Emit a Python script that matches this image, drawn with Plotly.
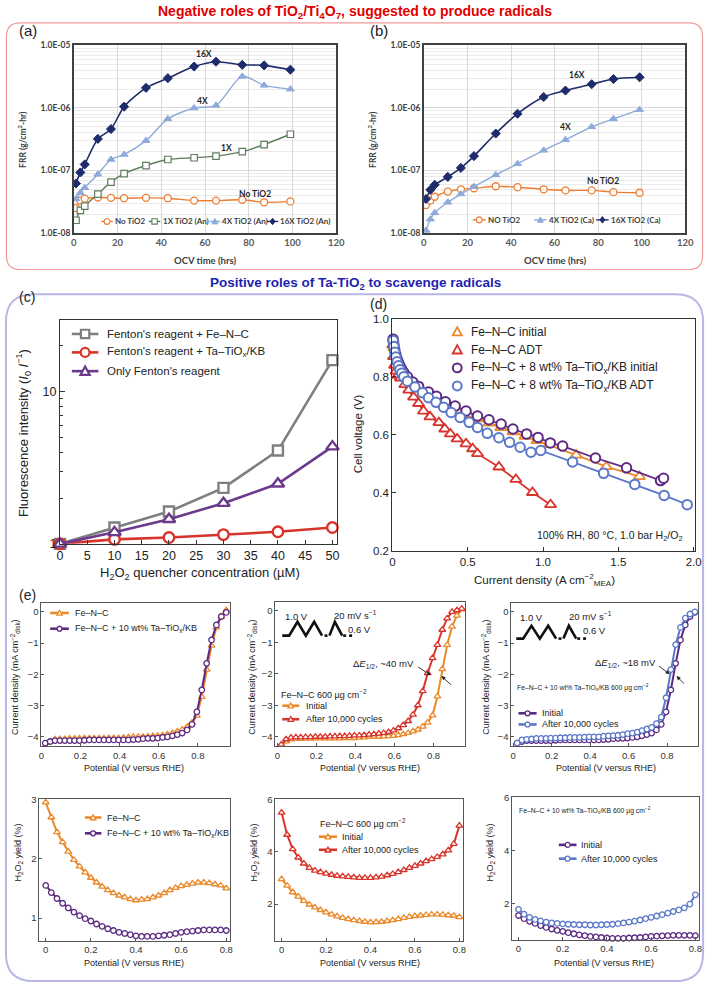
import math
import plotly.graph_objects as go

W, H = 716, 992

# ---------------- panel (a): FRR vs OCV time, anatase ----------------
a_time = [1, 3, 5, 11, 17, 23, 33, 43, 55, 65, 77, 87, 99]
a_no_tio2 = [2.5e-8, 3.3e-8, 3.55e-8, 3.7e-8, 3.65e-8, 3.6e-8, 3.65e-8, 3.6e-8, 3.3e-8, 3.3e-8, 3.4e-8, 3.1e-8, 3.2e-8]
a_1x = [1.6e-8, 2.3e-8, 2.7e-8, 4.2e-8, 6.5e-8, 8.9e-8, 1.2e-7, 1.5e-7, 1.6e-7, 1.7e-7, 2.0e-7, 2.6e-7, 3.8e-7]
a_4x = [3.5e-8, 4.4e-8, 5.3e-8, 8.7e-8, 1.5e-7, 1.8e-7, 3.0e-7, 6.7e-7, 1.0e-6, 1.1e-6, 3.2e-6, 2.3e-6, 2.0e-6]
a_16x = [6.2e-8, 9.3e-8, 1.25e-7, 3.2e-7, 4.6e-7, 1.05e-6, 2.1e-6, 3.0e-6, 4.6e-6, 5.5e-6, 4.9e-6, 4.8e-6, 4.1e-6]

# ---------------- panel (b): FRR vs OCV time, calcined ----------------
b_time = [1, 3, 5, 11, 17, 23, 33, 43, 55, 65, 77, 87, 99]
b_no_tio2 = [2.8e-8, 3.3e-8, 3.8e-8, 4.6e-8, 5.0e-8, 5.2e-8, 5.6e-8, 5.4e-8, 5.0e-8, 4.8e-8, 4.8e-8, 4.5e-8, 4.4e-8]
b_4x = [1.1e-8, 1.66e-8, 2.1e-8, 3.1e-8, 4.2e-8, 5.5e-8, 8.5e-8, 1.28e-7, 2.1e-7, 3.1e-7, 5.0e-7, 6.7e-7, 9.4e-7]
b_16x = [3.5e-8, 4.9e-8, 5.9e-8, 7.9e-8, 1.1e-7, 1.7e-7, 3.9e-7, 8.1e-7, 1.5e-6, 1.9e-6, 2.4e-6, 2.9e-6, 3.1e-6]

ab_xticks = [0, 20, 40, 60, 80, 100, 120]
ab_yticks = [1e-8, 1e-7, 1e-6, 1e-5]
ab_yticktext = ["1.0E-08", "1.0E-07", "1.0E-06", "1.0E-05"]

# ---------------- panel (c): fluorescence ----------------
c_conc = [0, 10, 20, 30, 40, 50]
c_fenton_fenc = [1.0, 1.28, 1.63, 2.33, 4.1, 16.1]
c_fenton_ta = [1.0, 1.07, 1.10, 1.15, 1.20, 1.28]
c_fenton_only = [1.0, 1.19, 1.45, 1.85, 2.48, 4.35]
c_xticks = [0, 5, 10, 15, 20, 25, 30, 35, 40, 45, 50]

# ---------------- panel (d): polarization curves ----------------
d_fenc_init_j = [0.005, 0.01, 0.02, 0.03, 0.045, 0.06, 0.08, 0.1, 0.13, 0.17, 0.21, 0.26, 0.31,
                 0.37, 0.43, 0.5, 0.57, 0.64, 0.72, 0.8, 0.88, 0.96, 1.04, 1.22, 1.42, 1.64]
d_fenc_init_v = [0.93, 0.90, 0.87, 0.85, 0.83, 0.815, 0.80, 0.79, 0.775, 0.76, 0.745, 0.73, 0.715,
                 0.70, 0.685, 0.67, 0.655, 0.64, 0.625, 0.61, 0.595, 0.58, 0.566, 0.53, 0.49, 0.456]
d_fenc_adt_j = [0.003, 0.008, 0.015, 0.025, 0.037, 0.054, 0.083, 0.109, 0.141, 0.174, 0.207, 0.25,
                0.309, 0.348, 0.385, 0.43, 0.489, 0.533, 0.565, 0.707, 0.82, 0.93, 1.05]
d_fenc_adt_v = [0.91, 0.87, 0.84, 0.82, 0.805, 0.796, 0.773, 0.754, 0.73, 0.708, 0.682, 0.662,
                0.642, 0.62, 0.603, 0.586, 0.569, 0.552, 0.535, 0.489, 0.446, 0.401, 0.359]
d_ta_init_j = [0.005, 0.01, 0.016, 0.023, 0.031, 0.04, 0.05, 0.062, 0.076, 0.1, 0.135, 0.174, 0.239,
               0.293, 0.352, 0.417, 0.489, 0.565, 0.641, 0.722, 0.8, 0.891, 0.967, 1.048, 1.13,
               1.348, 1.554, 1.78, 1.80]
d_ta_init_v = [0.93, 0.91, 0.893, 0.877, 0.862, 0.85, 0.838, 0.826, 0.815, 0.80, 0.782, 0.767, 0.748,
               0.733, 0.714, 0.699, 0.682, 0.665, 0.652, 0.637, 0.62, 0.603, 0.591, 0.572, 0.561,
               0.52, 0.486, 0.442, 0.45]
d_ta_adt_j = [0.005, 0.01, 0.016, 0.023, 0.031, 0.04, 0.05, 0.062, 0.076, 0.1, 0.15, 0.2, 0.24, 0.29,
              0.34, 0.39, 0.45, 0.51, 0.565, 0.63, 0.707, 0.778, 0.848, 0.92, 0.985, 1.196, 1.402,
              1.609, 1.804, 1.957]
d_ta_adt_v = [0.925, 0.905, 0.885, 0.868, 0.852, 0.838, 0.824, 0.812, 0.80, 0.785, 0.765, 0.745,
              0.728, 0.712, 0.695, 0.677, 0.66, 0.643, 0.625, 0.605, 0.59, 0.574, 0.557, 0.54,
              0.546, 0.506, 0.467, 0.429, 0.391, 0.359]

# ---------------- panel (e): RDE ----------------
e_lsv_pot = [0.020, 0.045, 0.070, 0.095, 0.120, 0.145, 0.170, 0.195, 0.220, 0.245,
             0.270, 0.295, 0.320, 0.345, 0.370, 0.395, 0.420, 0.445, 0.470, 0.495,
             0.520, 0.545, 0.570, 0.595, 0.620, 0.645, 0.670, 0.695, 0.720, 0.745,
             0.770, 0.795, 0.820, 0.845, 0.870, 0.895, 0.920, 0.945]
e_lsv_fenc_init = [-4.30, -4.15, -4.08, -4.07, -4.07, -4.06, -4.06, -4.05, -4.05, -4.05,
                   -4.05, -4.05, -4.05, -4.04, -4.04, -4.04, -4.03, -4.02, -4.00, -4.00,
                   -4.00, -3.99, -3.98, -3.97, -3.95, -3.92, -3.88, -3.83, -3.77, -3.68,
                   -3.55, -3.32, -2.72, -1.85, -1.08, -0.50, -0.15, 0.05]
e_lsv_ta_init = [-4.20, -4.15, -4.12, -4.12, -4.12, -4.12, -4.12, -4.12, -4.11, -4.10,
                 -4.10, -4.10, -4.10, -4.10, -4.10, -4.10, -4.10, -4.10, -4.09, -4.08,
                 -4.06, -4.05, -4.05, -4.04, -4.02, -4.00, -3.97, -3.93, -3.88, -3.78,
                 -3.60, -3.20, -2.50, -1.65, -0.90, -0.42, -0.15, -0.02]
e_lsv_fenc_after = [-4.25, -4.08, -4.03, -4.02, -4.02, -4.01, -4.01, -4.00, -4.00, -4.00,
                    -3.99, -3.99, -3.98, -3.98, -3.97, -3.96, -3.96, -3.95, -3.93, -3.92,
                    -3.90, -3.88, -3.85, -3.80, -3.73, -3.63, -3.50, -3.30, -3.00, -2.55,
                    -1.98, -1.50, -1.08, -0.60, -0.24, -0.03, 0.02, 0.07]
e_lsv_ta_after = [-4.20, -4.10, -4.08, -4.07, -4.05, -4.05, -4.05, -4.04, -4.04, -4.03,
                  -4.03, -4.02, -4.02, -4.02, -4.01, -4.00, -4.00, -4.00, -3.98, -3.97,
                  -3.96, -3.95, -3.93, -3.90, -3.88, -3.85, -3.80, -3.75, -3.70, -3.58,
                  -3.37, -2.75, -1.85, -1.05, -0.50, -0.20, -0.07, 0.00]

e_yield_pot = [0.0, 0.025, 0.05, 0.075, 0.1, 0.125, 0.15, 0.175, 0.2, 0.225, 0.25, 0.275, 0.3,
               0.325, 0.35, 0.375, 0.4, 0.425, 0.45, 0.475, 0.5, 0.525, 0.55, 0.575, 0.6, 0.625,
               0.65, 0.675, 0.7, 0.725, 0.75, 0.775, 0.8]
e_yield_fenc_init = [2.95, 2.70, 2.45, 2.28, 2.12, 1.98, 1.87, 1.77, 1.68, 1.60,
                     1.53, 1.47, 1.42, 1.38, 1.35, 1.32, 1.30, 1.31, 1.32, 1.35,
                     1.38, 1.42, 1.47, 1.51, 1.54, 1.56, 1.58, 1.60, 1.60, 1.59,
                     1.57, 1.55, 1.50]
e_yield_ta_init = [1.55, 1.43, 1.33, 1.25, 1.17, 1.10, 1.04, 0.99, 0.95, 0.90,
                   0.86, 0.82, 0.79, 0.76, 0.74, 0.72, 0.70, 0.69, 0.69, 0.69,
                   0.70, 0.71, 0.72, 0.74, 0.76, 0.77, 0.78, 0.79, 0.80, 0.80,
                   0.80, 0.80, 0.79]
e_yield_fenc_after = [5.50, 4.65, 4.10, 3.78, 3.55, 3.38, 3.28, 3.22, 3.16, 3.12,
                      3.08, 3.06, 3.04, 3.02, 3.00, 3.00, 3.00, 3.02, 3.05, 3.10,
                      3.15, 3.22, 3.30, 3.38, 3.46, 3.55, 3.64, 3.72, 3.80, 3.90,
                      4.05, 4.30, 5.00]
e_yield_ta_after = [1.78, 1.60, 1.48, 1.40, 1.35, 1.30, 1.27, 1.25, 1.23, 1.22,
                    1.21, 1.20, 1.20, 1.19, 1.19, 1.20, 1.21, 1.22, 1.24, 1.27,
                    1.30, 1.34, 1.38, 1.43, 1.48, 1.53, 1.58, 1.64, 1.70, 1.76,
                    1.84, 1.98, 2.33]
e_xticks = [0, 0.2, 0.4, 0.6, 0.8]

# ---------------- styling ----------------
SANS = "Liberation Sans, Arial, sans-serif"
CAL = "Lato, Liberation Sans, sans-serif"
ORANGE_A, GREEN_A, LBLUE_A, NAVY_A = "#ed7d31", "#5e7e5e", "#8eaadb", "#1f2c6b"
GRAY, RED, PURPLE, ORANGE, BLUE = "#7f7f7f", "#d8342c", "#5c2a82", "#ea8a2c", "#5b78c9"
PURPLE_C = "#6b3a8c"


def px(x):
    return x / W


def py(y):
    return 1 - y / H


def xdom(l, r):
    return [l / W, r / W]


def ydom(t, b):
    return [1 - b / H, 1 - t / H]


layout_axes = {}
traces = []
shapes = []
annotations = []


def axes(n, xd, yd, xcfg, ycfg):
    xk = "xaxis" if n == 1 else f"xaxis{n}"
    yk = "yaxis" if n == 1 else f"yaxis{n}"
    layout_axes[xk] = dict(domain=xd, anchor="y" if n == 1 else f"y{n}", **xcfg)
    layout_axes[yk] = dict(domain=yd, anchor="x" if n == 1 else f"x{n}", **ycfg)


def add(n, x, y, color, symbol, msize, lw, mlw, fill="white", shape="linear", clip=True):
    line = dict(color=color, width=lw, shape=shape)
    if shape == "spline":
        line["smoothing"] = 0.8
    traces.append(go.Scatter(
        x=x, y=y, xaxis="x" if n == 1 else f"x{n}", yaxis="y" if n == 1 else f"y{n}",
        mode="lines+markers", line=line,
        marker=dict(symbol=symbol, size=msize, color=fill, line=dict(color=color, width=mlw)),
        cliponaxis=clip, hoverinfo="skip", showlegend=False))


def text(x, y, s, size, family=SANS, color="#222", xanchor="left", angle=0, yanchor="middle"):
    annotations.append(dict(xref="paper", yref="paper", x=px(x), y=py(y), text=s, showarrow=False,
                            xanchor=xanchor, yanchor=yanchor, textangle=angle,
                            font=dict(family=family, size=size, color=color)))


def pth(pts):
    return "M " + " L ".join(f"{px(a):.5f},{py(b):.5f}" for a, b in pts) + " Z"


def marker_shape(cx, cy, sym, size, color, fill, lw):
    r = size / 2
    base = dict(xref="paper", yref="paper", line=dict(color=color, width=lw), fillcolor=fill)
    if sym == "circle":
        shapes.append(dict(type="circle", x0=px(cx - r), x1=px(cx + r), y0=py(cy + r), y1=py(cy - r), **base))
    elif sym == "square":
        shapes.append(dict(type="rect", x0=px(cx - r), x1=px(cx + r), y0=py(cy + r), y1=py(cy - r), **base))
    elif sym == "triangle":
        shapes.append(dict(type="path", path=pth([(cx, cy - 1.1 * r), (cx + 1.1 * r, cy + 0.9 * r),
                                                    (cx - 1.1 * r, cy + 0.9 * r)]), **base))
    elif sym == "diamond":
        shapes.append(dict(type="path", path=pth([(cx, cy - 1.2 * r), (cx + 0.9 * r, cy),
                                                    (cx, cy + 1.2 * r), (cx - 0.9 * r, cy)]), **base))


def leg(x0, x1, y, color, sym, size, lw, mlw, label, tx, fsize, fill="white", family=SANS,
        tcolor="#222", line=True):
    if line:
        shapes.append(dict(type="line", xref="paper", yref="paper", x0=px(x0), x1=px(x1),
                           y0=py(y), y1=py(y), line=dict(color=color, width=lw)))
    marker_shape((x0 + x1) / 2, y, sym, size, color, fill, mlw)
    text(tx, y, label, fsize, family=family, color=tcolor)


def rrect(x0, y0, x1, y1, r, color, width):
    p = (f"M {px(x0 + r)},{py(y0)} L {px(x1 - r)},{py(y0)} Q {px(x1)},{py(y0)} {px(x1)},{py(y0 + r)} "
         f"L {px(x1)},{py(y1 - r)} Q {px(x1)},{py(y1)} {px(x1 - r)},{py(y1)} "
         f"L {px(x0 + r)},{py(y1)} Q {px(x0)},{py(y1)} {px(x0)},{py(y1 - r)} "
         f"L {px(x0)},{py(y0 + r)} Q {px(x0)},{py(y0)} {px(x0 + r)},{py(y0)} Z")
    shapes.append(dict(type="path", xref="paper", yref="paper", path=p,
                       line=dict(color=color, width=width), layer="below"))


# ---------------- panels (a), (b) ----------------
ab_minor = [k * 10 ** e for e in (-8, -7, -6) for k in range(2, 10)]
ab_x = dict(range=[0, 120], tickvals=ab_xticks, showgrid=True, gridcolor="#d9d9d9", showline=True,
            linecolor="#404040", linewidth=1.5, mirror=True, ticks="", zeroline=False,
            tickfont=dict(family=CAL, size=9.5, color="#595959", weight="bold"))
ab_y = dict(type="log", range=[-8, -5], tickvals=ab_yticks, ticktext=ab_yticktext, showgrid=True,
            gridcolor="#d9d9d9",
            minor=dict(tickvals=ab_minor, showgrid=True, gridcolor="#ebebeb", ticks=""),
            showline=True, linecolor="#404040", linewidth=1.5, mirror=True, ticks="",
            tickfont=dict(family=CAL, size=8.5, color="#404040", weight="bold"))
axes(1, xdom(72, 339), ydom(40, 230), ab_x, ab_y)
axes(2, xdom(428, 694), ydom(40, 230), ab_x, ab_y)

add(1, a_time, a_no_tio2, ORANGE_A, "circle", 7, 1.4, 1.3, shape="spline")
add(1, a_time, a_1x, GREEN_A, "square", 6.5, 1.4, 1.2, shape="spline")
add(1, a_time, a_4x, LBLUE_A, "triangle-up", 7, 1.4, 1, fill=LBLUE_A, shape="spline")
add(1, a_time, a_16x, NAVY_A, "diamond", 7, 1.6, 1, fill=NAVY_A, shape="spline")
add(2, b_time, b_no_tio2, ORANGE_A, "circle", 7, 1.4, 1.3, shape="spline")
add(2, b_time, b_4x, LBLUE_A, "triangle-up", 7, 1.4, 1, fill=LBLUE_A, shape="spline")
add(2, b_time, b_16x, NAVY_A, "diamond", 7, 1.6, 1, fill=NAVY_A, shape="spline")


def data_label(n, x, y, s):
    annotations.append(dict(xref="x" if n == 1 else f"x{n}", yref="y" if n == 1 else f"y{n}",
                            x=x, y=math.log10(y), text=s, showarrow=False,
                            font=dict(family=CAL, size=8.5, color="#262626", weight="bold")))


data_label(1, 59.5, 7.2e-6, "16X")
data_label(1, 59, 1.3e-6, "4X")
data_label(1, 70, 2.3e-7, "1X")
data_label(1, 82.7, 4.2e-8, "No TiO2")
data_label(2, 70.5, 3.4e-6, "16X")
data_label(2, 65, 5.0e-7, "4X")
data_label(2, 82, 6.7e-8, "No TiO2")

LF = dict(fsize=8, family=CAL, tcolor="#404040")
leg(100, 111.7, 218.3, ORANGE_A, "circle", 6, 1.4, 1.2, "<b>No TiO2</b>", 111.8, **LF)
leg(148.3, 160, 218.3, GREEN_A, "square", 5.5, 1.4, 1.1, "<b>1X TiO2 (An)</b>", 160.2, **LF)
leg(210, 221, 218.3, LBLUE_A, "triangle", 5.5, 1.4, 1, "<b>4X TiO2 (An)</b>", 221.2, fill=LBLUE_A, **LF)
leg(268.3, 280, 218.3, NAVY_A, "diamond", 5.5, 1.4, 1, "<b>16X TiO2 (An)</b>", 280, fill=NAVY_A, **LF)
leg(477.7, 491, 216.7, ORANGE_A, "circle", 6, 1.4, 1.2, "<b>NO TiO2</b>", 491.5, **LF)
leg(540.3, 552.7, 216.7, LBLUE_A, "triangle", 5.5, 1.4, 1, "<b>4X TiO2 (Ca)</b>", 553.2, fill=LBLUE_A, **LF)
leg(603.3, 616, 216.7, NAVY_A, "diamond", 5.5, 1.4, 1, "<b>16X TiO2 (Ca)</b>", 616.5, fill=NAVY_A, **LF)

text(20, 135, "<b>FRR (g/cm<sup>2</sup>-hr)</b>", 8.5, family=CAL, color="#404040", xanchor="center", angle=-90)
text(376, 135, "<b>FRR (g/cm<sup>2</sup>-hr)</b>", 8.5, family=CAL, color="#404040", xanchor="center", angle=-90)
text(205, 258, "<b>OCV time (hrs)</b>", 9.5, family=CAL, color="#404040", xanchor="center")
text(561, 258, "<b>OCV time (hrs)</b>", 9.5, family=CAL, color="#404040", xanchor="center")

# ---------------- panel (c) ----------------
frame = dict(showline=True, linecolor="#333", linewidth=1.2, mirror=True, showgrid=False, zeroline=False)
c_x = dict(range=[0, 50.9], tickvals=c_xticks, ticks="inside", ticklen=4, tickcolor="#333",
           tickfont=dict(family=SANS, size=12.5, color="#222"), **frame)
c_y = dict(type="log", range=[0, math.log10(29.6)], tickvals=[1, 10], ticktext=["1", "10"],
           ticks="inside", ticklen=5, tickcolor="#333",
           minor=dict(tickvals=[2, 3, 4, 5, 6, 7, 8, 9, 20], ticks="inside", ticklen=3, tickcolor="#333"),
           tickfont=dict(family=SANS, size=12.5, color="#222"), **frame)
axes(3, xdom(58, 340), ydom(318, 545), c_x, c_y)
add(3, c_conc, c_fenton_fenc, GRAY, "square", 10, 2.6, 2.4, clip=False)
add(3, c_conc, c_fenton_ta, RED, "circle", 10.5, 2.6, 2.4, clip=False)
add(3, c_conc, c_fenton_only, PURPLE_C, "triangle-up", 11, 2.6, 2.4, clip=False)
leg(70, 97, 332.3, GRAY, "square", 8.5, 2.6, 2.2, "Fenton's reagent + Fe–N–C", 103.3, 11.5)
leg(70, 97, 351, RED, "circle", 9, 2.6, 2.2, "Fenton's reagent + Ta–TiO<sub>x</sub>/KB", 103.3, 11.5)
leg(70, 97, 370, PURPLE_C, "triangle", 8.5, 2.6, 2.2, "Only Fenton's reagent", 103.3, 11.5)
text(21, 433, "Fluorescence intensity (<i>I</i><sub>0</sub> <i>I</i><sup>−1</sup>)", 13, xanchor="center", angle=-90)
text(200, 575, "H<sub>2</sub>O<sub>2</sub> quencher concentration (µM)", 13, xanchor="center")

# ---------------- panel (d) ----------------
d_x = dict(range=[0, 2.01], tickvals=[0, 0.5, 1.0, 1.5, 2.0], ticktext=["0", "0.5", "1.0", "1.5", "2.0"],
           ticks="inside", ticklen=4, tickcolor="#333", tickfont=dict(family=SANS, size=11.5, color="#222"), **frame)
d_y = dict(range=[0.2, 1.0], tickvals=[0.2, 0.4, 0.6, 0.8, 1.0], ticktext=["0.2", "0.4", "0.6", "0.8", "1.0"],
           ticks="inside", ticklen=4, tickcolor="#333", tickfont=dict(family=SANS, size=11.5, color="#222"), **frame)
axes(4, xdom(396, 704), ydom(317, 552), d_x, d_y)
add(4, d_fenc_init_j, d_fenc_init_v, ORANGE, "triangle-up", 10, 1.8, 1.8, clip=False)
add(4, d_fenc_adt_j, d_fenc_adt_v, RED, "triangle-up", 10, 1.8, 1.8, clip=False)
add(4, d_ta_init_j, d_ta_init_v, PURPLE, "circle", 9.5, 1.8, 2, clip=False)
add(4, d_ta_adt_j, d_ta_adt_v, BLUE, "circle", 9.5, 1.8, 2, clip=False)
leg(455, 469, 330, ORANGE, "triangle", 8.5, 0, 1.8, "Fe–N–C initial", 474.3, 12, line=False)
leg(455, 469, 348.3, RED, "triangle", 8.5, 0, 1.8, "Fe–N–C ADT", 474.3, 12, line=False)
leg(455, 469, 366.7, PURPLE, "circle", 9, 0, 2, "Fe–N–C + 8 wt% Ta–TiO<sub>x</sub>/KB initial", 474.3, 12, line=False)
leg(455, 469, 385, BLUE, "circle", 9, 0, 2, "Fe–N–C + 8 wt% Ta–TiO<sub>x</sub>/KB ADT", 474.3, 12, line=False)
text(693, 536.7, "100% RH, 80 °C, 1.0 bar H<sub>2</sub>/O<sub>2</sub>", 10.5, xanchor="right")
text(361, 433, "Cell voltage (V)", 11.5, xanchor="center", angle=-90)
text(551, 582, "Current density (A cm<sup>−2</sup><sub>MEA</sub>)", 11.5, xanchor="center")

# ---------------- panel (e) ----------------
eframe = dict(showline=True, linecolor="#555", linewidth=1, mirror=True, showgrid=False, zeroline=False,
              ticks="inside", ticklen=3, tickcolor="#555", tickfont=dict(family=SANS, size=9.5, color="#333"))
e_x1 = dict(range=[0, 0.965], tickvals=e_xticks, **eframe)
e_x23 = dict(range=[-0.01, 0.962], tickvals=e_xticks, **eframe)
e_y_lsv = dict(range=[-4.3, 0.28], tickvals=[-4, -3, -2, -1, 0], **eframe)
e_x_y = dict(range=[-0.028, 0.817], tickvals=e_xticks, **eframe)
axes(5, xdom(39, 231), ydom(605, 750), e_x1, e_y_lsv)
axes(6, xdom(277, 470), ydom(604, 750), e_x23, e_y_lsv)
axes(7, xdom(517, 707), ydom(605, 750), e_x23, e_y_lsv)
axes(8, xdom(37, 231), ydom(804, 947), e_x_y, dict(range=[0.62, 3.0], tickvals=[1, 2, 3], **eframe))
axes(9, xdom(277, 468), ydom(804, 947), e_x_y, dict(range=[0.6, 6.0], tickvals=[2, 4, 6], **eframe))
axes(10, xdom(518, 708), ydom(802, 946), e_x_y, dict(range=[0.64, 6.0], tickvals=[2, 4, 6], **eframe))

add(5, e_lsv_pot, e_lsv_fenc_init, ORANGE, "triangle-up", 6, 2, 1.3)
add(5, e_lsv_pot, e_lsv_ta_init, PURPLE, "circle", 5.5, 2, 1.3)
add(6, e_lsv_pot, e_lsv_fenc_init, ORANGE, "triangle-up", 6, 2, 1.3)
add(6, e_lsv_pot, e_lsv_fenc_after, RED, "triangle-up", 6, 2, 1.3)
add(7, e_lsv_pot, e_lsv_ta_init, PURPLE, "circle", 5.5, 2, 1.3)
add(7, e_lsv_pot, e_lsv_ta_after, BLUE, "circle", 5.5, 2, 1.3)
add(8, e_yield_pot, e_yield_fenc_init, ORANGE, "triangle-up", 6, 2, 1.3, clip=False)
add(8, e_yield_pot, e_yield_ta_init, PURPLE, "circle", 5.5, 2, 1.3, clip=False)
add(9, e_yield_pot, e_yield_fenc_init, ORANGE, "triangle-up", 6, 2, 1.3, clip=False)
add(9, e_yield_pot, e_yield_fenc_after, RED, "triangle-up", 6, 2, 1.3, clip=False)
add(10, e_yield_pot, e_yield_ta_init, PURPLE, "circle", 5.5, 2, 1.3, clip=False)
add(10, e_yield_pot, e_yield_ta_after, BLUE, "circle", 5.5, 2, 1.3, clip=False)

EF = 9
leg(48, 67, 615, ORANGE, "triangle", 5, 2.6, 1.3, "Fe–N–C", 71.7, EF)
leg(48, 67, 631, PURPLE, "circle", 5, 2.6, 1.3, "Fe–N–C + 10 wt% Ta–TiO<sub>x</sub>/KB", 71.7, EF)
text(281, 697, "Fe–N–C 600 µg cm<sup>−2</sup>", EF)
leg(284, 301.3, 709, ORANGE, "triangle", 5, 2.6, 1.3, "Initial", 306.3, EF)
leg(284, 301.3, 722.7, RED, "triangle", 5, 2.6, 1.3, "After 10,000 cycles", 306.3, EF)
text(521, 691, "Fe–N–C + 10 wt% Ta–TiO<sub>x</sub>/KB 600 µg cm<sup>−2</sup>", 6.8)
leg(524.3, 542.7, 716.7, PURPLE, "circle", 5, 2.6, 1.3, "Initial", 546, EF)
leg(524.3, 542.7, 728, BLUE, "circle", 5, 2.6, 1.3, "After 10,000 cycles", 546, EF)
leg(83.3, 100, 822.3, ORANGE, "triangle", 5, 2.6, 1.3, "Fe–N–C", 103.3, EF)
leg(83.3, 100, 838.3, PURPLE, "circle", 5, 2.6, 1.3, "Fe–N–C + 10 wt% Ta–TiO<sub>x</sub>/KB", 103.3, EF)
text(320.7, 828.3, "Fe–N–C 600 µg cm<sup>−2</sup>", EF)
leg(321.3, 339.7, 841.7, ORANGE, "triangle", 5, 2.6, 1.3, "Initial", 343, EF)
leg(321.3, 339.7, 855, RED, "triangle", 5, 2.6, 1.3, "After 10,000 cycles", 343, EF)
text(522.7, 815, "Fe–N–C + 10 wt% Ta–TiO<sub>x</sub>/KB 600 µg cm<sup>−2</sup>", 6.8)
leg(565.3, 583.3, 850, PURPLE, "circle", 5, 2.6, 1.3, "Initial", 586, EF)
leg(565.3, 583.3, 864, BLUE, "circle", 5, 2.6, 1.3, "After 10,000 cycles", 586, EF)

# sweep waveform insets (e2, e3)
for (x0, yl, amp) in [(284, 638, 14), (522, 641, 13)]:
    wave = [(x0, yl), (x0 + 7, yl), (x0 + 15.5, yl - amp), (x0 + 24, yl), (x0 + 32.5, yl - amp),
            (x0 + 40.5, yl)]
    shapes.append(dict(type="path", xref="paper", yref="paper",
                       path="M " + " L ".join(f"{px(a)},{py(b)}" for a, b in wave),
                       line=dict(color="#111", width=2.6)))
    for seg in [(x0 + 43, x0 + 46), (x0 + 62, x0 + 65), (x0 + 68, x0 + 71)]:
        shapes.append(dict(type="line", xref="paper", yref="paper", x0=px(seg[0]), x1=px(seg[1]),
                           y0=py(yl), y1=py(yl), line=dict(color="#111", width=2.6)))
    wave2 = [(x0 + 48, yl), (x0 + 53.5, yl - amp), (x0 + 61, yl)]
    shapes.append(dict(type="path", xref="paper", yref="paper",
                       path="M " + " L ".join(f"{px(a)},{py(b)}" for a, b in wave2),
                       line=dict(color="#111", width=2.6)))
text(285, 618.3, "1.0 V", 9.5)
text(334.7, 616.7, "20 mV s<sup>−1</sup>", 9.5)
text(349, 631.7, "0.6 V", 9.5)
text(524, 620, "1.0 V", 9.5)
text(573.7, 618, "20 mV s<sup>−1</sup>", 9.5)
text(587.7, 633, "0.6 V", 9.5)

text(420, 667, "Δ<i>E</i><sub>1/2</sub>, ~40 mV", 9.5, xanchor="right")
text(666, 666, "Δ<i>E</i><sub>1/2</sub>, ~18 mV", 9.5, xanchor="right")
for hx, hy, ax, ay in [(435, 678, -14, -9), (446, 679, 11, 10), (678, 677, -12, -9), (685, 679, 9, 9)]:
    annotations.append(dict(xref="paper", yref="paper", x=px(hx), y=py(hy), ax=ax, ay=ay, text="",
                            showarrow=True, arrowhead=2, arrowsize=0.9, arrowwidth=0.9, arrowcolor="#222",
                            standoff=0, startstandoff=0))

for xc in (12, 253, 491):
    text(xc, 680, "Current density (mA cm<sup>−2</sup><sub>disk</sub>)", 9, xanchor="center", angle=-90)
for xc in (16, 256, 496):
    text(xc, 858, "H<sub>2</sub>O<sub>2</sub> yield (%)", 9, xanchor="center", angle=-90)
for xc in (133, 373, 613):
    text(xc, 772, "Potential (V versus RHE)", 9, xanchor="center")
for xc in (133, 373, 611):
    text(xc, 970, "Potential (V versus RHE)", 9, xanchor="center")

# ---------------- headings, boxes, panel letters ----------------
rrect(3.5, 17, 711.5, 267, 14, "#f29a9a", 1.2)
rrect(3, 292, 712, 988, 28, "#b7b7e8", 2)
text(358, 6, "<b>Negative roles of TiO<sub>2</sub>/Ti<sub>4</sub>O<sub>7</sub>, suggested to produce radicals</b>",
     14, color="#e00000", xanchor="center")
text(358, 281, "<b>Positive roles of Ta-TiO<sub>2</sub> to scavenge radicals</b>", 13.5,
     color="#1f1fb0", xanchor="center")
text(14, 25, "(a)", 15)
text(371, 25, "(b)", 15)
text(14, 295, "(c)", 14)
text(371, 301.7, "(d)", 14)
text(14, 597, "(e)", 14)

fig = go.Figure(data=traces)
fig.update_layout(width=W, height=H, margin=dict(l=0, r=0, t=0, b=0), paper_bgcolor="white",
                  plot_bgcolor="white", showlegend=False, shapes=shapes, annotations=annotations,
                  font=dict(family=SANS), **layout_axes)
fig.write_html("out.html", config={"displayModeBar": False},
               post_script="document.body.style.margin='0px';document.body.style.overflow='hidden';")
